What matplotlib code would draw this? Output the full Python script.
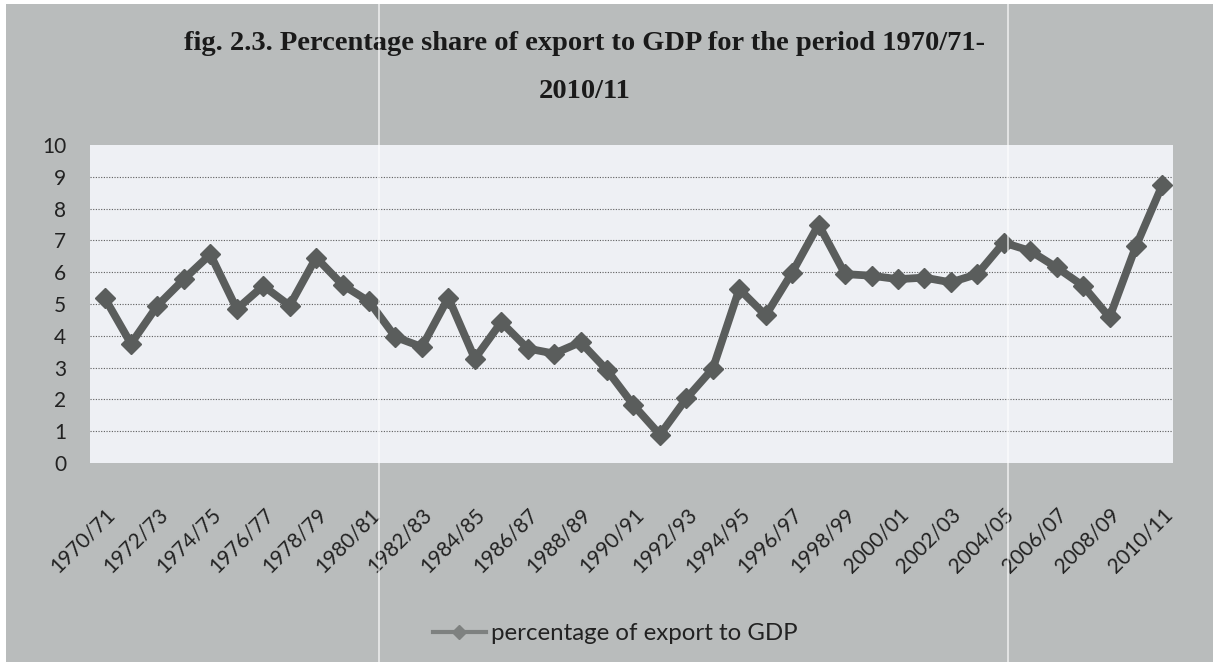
import numpy as np
import matplotlib
matplotlib.use("Agg")
import matplotlib.pyplot as plt
from matplotlib.lines import Line2D
from matplotlib.patches import Rectangle

# fiscal years 1970/71 .. 2010/11
years = ["%d/%02d" % (y, (y + 1) % 100) for y in range(1970, 2011)]

# export as percentage of GDP
export_share = [5.2, 3.75, 4.95, 5.78, 6.56, 4.84, 5.57, 4.95, 6.46, 5.6,
                5.08, 3.96, 3.65, 5.2, 3.28, 4.43, 3.6, 3.44, 3.8, 2.92,
                1.82, 0.89, 2.03, 2.97, 5.47, 4.64, 5.99, 7.5, 5.94, 5.89,
                5.78, 5.83, 5.68, 5.94, 6.93, 6.67, 6.15, 5.57, 4.58, 6.82,
                8.75]

series_name = "percentage of export to GDP"
title_lines = ["fig. 2.3. Percentage share of export to GDP for the period 1970/71-",
               "2010/11"]

W, H = 1215, 666
BG = "#b9bcbc"
PLOT_BG = "#eef0f4"
LINE = "#5a5d5c"


def main():
    fig = plt.figure(figsize=(W / 100, H / 100), dpi=100)
    fig.patch.set_facecolor("white")

    # gray chart area inside a thin white margin
    fig.patches.append(Rectangle((6 / W, 4 / H), 1207 / W, 658 / H,
                                 transform=fig.transFigure, facecolor=BG,
                                 edgecolor="none", zorder=-10))

    ax = fig.add_axes([90 / W, 1 - 463 / H, (1173 - 90) / W, (463 - 145) / H])
    ax.set_zorder(2)
    ax.set_facecolor(PLOT_BG)
    for s in ax.spines.values():
        s.set_visible(False)

    x = np.arange(len(years))
    ax.plot(x, export_share, color=LINE, lw=5.6, marker="D", ms=10.5,
            solid_joinstyle="miter", zorder=3)

    ax.set_xlim(-0.55, len(years) - 1 + 0.4)
    ax.set_ylim(0, 10)
    ax.set_yticks(range(0, 11))
    for v in range(1, 10):
        ax.axhline(v, color="#5c5c5c", lw=0.8, ls=(0, (1, 1.4)), zorder=1)

    ax.set_xticks(x[::2])
    ax.set_xticklabels(years[::2], rotation=45, ha="right", va="top",
                       rotation_mode="anchor")
    ax.tick_params(axis="both", length=0, colors="#222222", labelsize=15)
    ax.tick_params(axis="x", pad=30)
    ax.tick_params(axis="y", pad=17)
    for lab in ax.get_xticklabels() + ax.get_yticklabels():
        lab.set_family("Lato")

    for line, ty in zip(title_lines, (44, 91)):
        fig.text(585 / W, 1 - ty / H, line, ha="center", va="center",
                 family="Liberation Serif", weight="bold", fontsize=20.5,
                 color="#1a1a1a", zorder=5)

    handle = Line2D([], [], color="#7e8180", lw=3, marker="D", ms=7)
    fig.legend([handle], [series_name], loc="center",
               bbox_to_anchor=(615 / W, 1 - 634 / H), frameon=False,
               prop={"family": "Lato", "size": 17.3}, handlelength=2.2,
               handletextpad=0.2, labelcolor="#222222")

    # stitching seams of the scanned page
    for sx in (379, 1008):
        fig.add_artist(Line2D([sx / W, sx / W], [4 / H, 662 / H],
                              transform=fig.transFigure, color="white",
                              lw=1.2, alpha=0.7, zorder=10))

    fig.savefig("out.png", dpi=100, facecolor=fig.get_facecolor())


if __name__ == "__main__":
    main()
